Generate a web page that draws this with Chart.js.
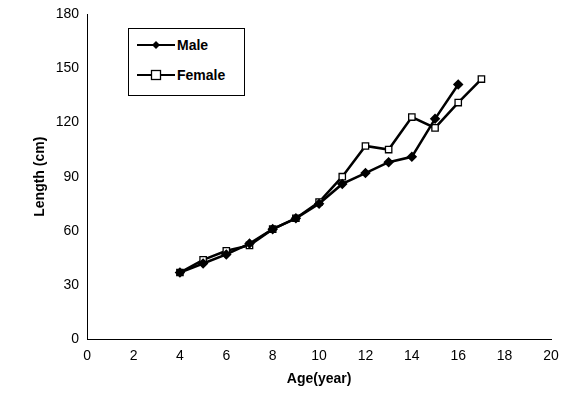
<!DOCTYPE html>
<html><head><meta charset="utf-8">
<script src="https://cdn.jsdelivr.net/npm/chart.js@4"></script>
<style>
body{margin:0;background:#fff;font-family:Arial,"Liberation Sans",sans-serif}
#wrap{position:relative;width:565px;height:407px}
#legend{position:absolute;left:128px;top:28px;width:117px;height:68px;border:1px solid #000;background:#fff;box-sizing:border-box;font:bold 14px Arial,"Liberation Sans",sans-serif}
.row{position:absolute;left:8px;height:20px;display:flex;align-items:center}
.row svg{margin-right:2px}
</style></head><body>
<div id="wrap"><canvas id="c" width="565" height="407"></canvas>
<div id="legend">
<div class="row" style="top:6px"><svg width="38" height="12"><line x1="0" y1="6" x2="38" y2="6" stroke="#000" stroke-width="2"/><path d="M19 2 L23 6 L19 10 L15 6Z" fill="#000"/></svg>Male</div>
<div class="row" style="top:36px"><svg width="38" height="12"><line x1="0" y1="6" x2="38" y2="6" stroke="#000" stroke-width="2"/><rect x="14.5" y="1.5" width="9" height="9" fill="#fff" stroke="#000" stroke-width="1.3"/></svg>Female</div>
</div></div>
<script>
const maleAge = [4,5,6,7,8,9,10,11,12,13,14,15,16];
const maleLength = [37,42,47,53,61,67,75,86,92,98,101,122,141];
const femaleAge = [4,5,6,7,8,9,10,11,12,13,14,15,16,17];
const femaleLength = [37,44,49,52,61,67,76,90,107,105,123,117,131,144];

const pts = (xs, ys) => xs.map((x, i) => ({ x, y: ys[i] }));
const tickFont = { family: 'Arial, "Liberation Sans", sans-serif', size: 14 };
const titleFont = { family: 'Arial, "Liberation Sans", sans-serif', size: 14, weight: 'bold' };

new Chart(document.getElementById('c'), {
  type: 'line',
  data: {
    datasets: [
      { label: 'Male', data: pts(maleAge, maleLength), borderColor: '#000', borderWidth: 2.5,
        pointStyle: 'rectRot', pointRadius: 3.5, pointBackgroundColor: '#000', pointBorderColor: '#000', tension: 0 },
      { label: 'Female', data: pts(femaleAge, femaleLength), borderColor: '#000', borderWidth: 2.5,
        pointStyle: 'rect', pointRadius: 4.5, pointBackgroundColor: '#fff', pointBorderColor: '#000', pointBorderWidth: 1.3, tension: 0 },
    ],
  },
  options: {
    responsive: false, animation: false,
    layout: { padding: { left: 28, right: 14, top: 14, bottom: 15 } },
    plugins: { legend: { display: false }, tooltip: { enabled: false } },
    scales: {
      x: { type: 'linear', min: 0, max: 20,
        ticks: { stepSize: 2, color: '#000', font: tickFont },
        grid: { display: false, drawTicks: true, tickLength: 5, tickColor: '#000' },
        border: { color: '#000', width: 1 },
        title: { display: true, text: 'Age(year)', color: '#000', font: titleFont } },
      y: { min: 0, max: 180,
        ticks: { stepSize: 30, color: '#000', font: tickFont },
        grid: { display: false, tickLength: 5, tickColor: '#000' },
        border: { color: '#000', width: 1 },
        title: { display: true, text: 'Length (cm)', color: '#000', font: titleFont } },
    },
  },
});
</script></body></html>
